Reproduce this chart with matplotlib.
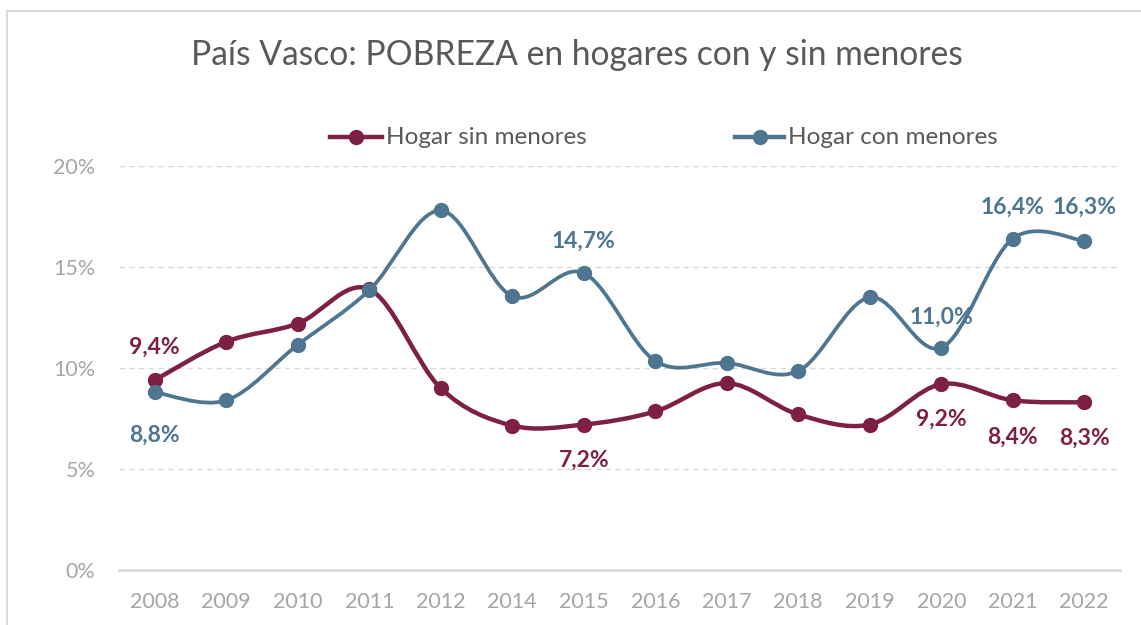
import matplotlib
matplotlib.use("Agg")
import matplotlib.pyplot as plt
import numpy as np
from matplotlib.path import Path
from matplotlib.patches import PathPatch, Rectangle
from matplotlib.lines import Line2D

plt.rcParams['font.family'] = ['Lato', 'DejaVu Sans']

years = ["2008", "2009", "2010", "2011", "2012", "2014", "2015", "2016",
         "2017", "2018", "2019", "2020", "2021", "2022"]
sin_menores = [9.4, 11.3, 12.2, 13.9, 9.0, 7.15, 7.2, 7.85, 9.25, 7.7, 7.2, 9.2, 8.4, 8.3]
con_menores = [8.8, 8.4, 11.15, 13.85, 17.8, 13.55, 14.7, 10.35, 10.25, 9.85, 13.5, 11.0, 16.4, 16.3]
yticks = [0, 5, 10, 15, 20]
ytick_labels = ["0%", "5%", "10%", "15%", "20%"]

# labelled points: (index, label, vertical offset in px, positive = below)
sin_labels = [(0, "9,4%", -33), (6, "7,2%", 36), (11, "9,2%", 35), (12, "8,4%", 37), (13, "8,3%", 36)]
con_labels = [(0, "8,8%", 43), (6, "14,7%", -32), (11, "11,0%", -31), (12, "16,4%", -32), (13, "16,3%", -34)]

RED = "#7E1F45"
BLUE = "#4E7690"
GRAY_TXT = "#595959"
TICK_TXT = "#a6a6a6"

W, H = 1141, 625
fig = plt.figure(figsize=(W / 100, H / 100), dpi=100)
fig.patch.set_facecolor("white")

# chart border
fig.patches.append(Rectangle((7 / W, -0.05), 1.2, (H - 11) / H + 0.05, transform=fig.transFigure,
                             fill=False, edgecolor="#d9d9d9", lw=1.5))

ax = fig.add_axes([119 / W, (H - 570) / H, (1120 - 119) / W, (570 - 166) / H])
x = np.arange(len(years))
ax.set_xlim(-0.5, len(years) - 0.5)
ax.set_ylim(0, 20)

for s in ["top", "right", "left"]:
    ax.spines[s].set_visible(False)
ax.spines["bottom"].set_color("#d9d9d9")
ax.spines["bottom"].set_linewidth(2)
ax.set_yticks(yticks)
ax.set_yticklabels(ytick_labels)
ax.set_xticks(x)
ax.set_xticklabels(years)
ax.tick_params(axis="both", length=0, labelsize=15.5, labelcolor=TICK_TXT)
ax.tick_params(axis="y", pad=17)
ax.tick_params(axis="x", pad=16)
for yt in yticks[1:]:
    ax.axhline(yt, color="#d9d9d9", lw=1, ls=(0, (4, 3)), zorder=0)


def smooth_path(xs, ys):
    pts = np.column_stack([xs, ys]).astype(float)
    n = len(pts)
    verts = [pts[0]]
    codes = [Path.MOVETO]
    for i in range(n - 1):
        p0 = pts[i - 1] if i > 0 else pts[i]
        p1 = pts[i]
        p2 = pts[i + 1]
        p3 = pts[i + 2] if i + 2 < n else pts[i + 1]
        c1 = p1 + (p2 - p0) / 6
        c2 = p2 - (p3 - p1) / 6
        verts += [c1, c2, p2]
        codes += [Path.CURVE4] * 3
    return Path(verts, codes)


def draw_series(vals, color, lw, ms, z):
    ax.add_patch(PathPatch(smooth_path(x, vals), fill=False, edgecolor=color, lw=lw,
                           capstyle="round", joinstyle="round", zorder=z))
    ax.plot(x, vals, ls="none", marker="o", ms=ms, color=color, zorder=z + 0.5)


draw_series(sin_menores, RED, 3.2, 10, 3)
draw_series(con_menores, BLUE, 2.7, 10, 4)

for idx, lab, dy in sin_labels:
    ax.annotate(lab, (x[idx], sin_menores[idx]), xytext=(0, -dy * 0.72), textcoords="offset points",
                ha="center", va="center", fontsize=16.5, fontweight="bold", color=RED, zorder=6)
for idx, lab, dy in con_labels:
    ax.annotate(lab, (x[idx], con_menores[idx]), xytext=(0, -dy * 0.72), textcoords="offset points",
                ha="center", va="center", fontsize=16.5, fontweight="bold", color=BLUE, zorder=6)

# title
fig.text(577 / W, 1 - 55 / H, "País Vasco: POBREZA en hogares con y sin menores",
         ha="center", va="center", fontsize=24.2, color=GRAY_TXT)

# legend (manual)
ly = 1 - 137 / H
for x0, x1, col, lab in [(330, 382, RED, "Hogar sin menores"), (735, 784, BLUE, "Hogar con menores")]:
    fig.add_artist(Line2D([x0 / W, x1 / W], [ly, ly], transform=fig.transFigure, color=col, lw=3.2))
    fig.add_artist(Line2D([(x0 + x1) / 2 / W], [ly], transform=fig.transFigure, color=col,
                          marker="o", ms=10, ls="none"))
    fig.text((x1 + 4) / W, ly, lab, ha="left", va="center", fontsize=17.5, color=GRAY_TXT)

fig.savefig("out.png", dpi=100)
